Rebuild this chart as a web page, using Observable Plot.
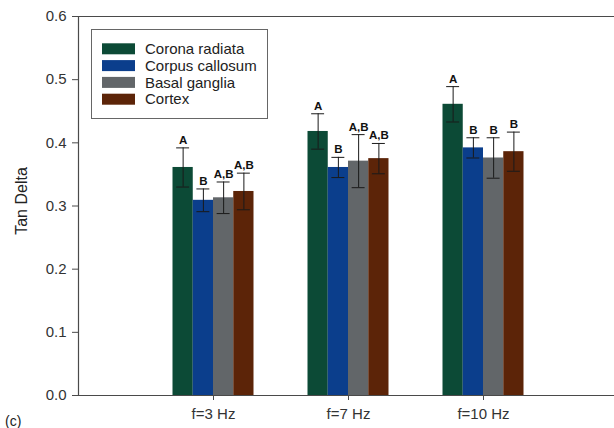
<!DOCTYPE html>
<html><head><meta charset="utf-8">
<script src="https://cdn.jsdelivr.net/npm/d3@7"></script>
<script src="https://cdn.jsdelivr.net/npm/@observablehq/plot@0.6"></script>
<style>
body{margin:0;background:#fff;overflow:hidden}
svg{font-family:"Liberation Sans",Arial,sans-serif}
</style>
</head><body><div id="chart"></div>
<script>
// Data
const groups = ["f=3 Hz", "f=7 Hz", "f=10 Hz"];
const series = ["Corona radiata", "Corpus callosum", "Basal ganglia", "Cortex"];
const colors = ["#0c4a36", "#0b3e8c", "#626669", "#5c2408"];

const coronaMean   = [0.361, 0.418, 0.461];
const callosumMean = [0.309, 0.361, 0.392];
const basalMean    = [0.313, 0.371, 0.376];
const cortexMean   = [0.323, 0.375, 0.386];

const coronaErr    = [0.031, 0.028, 0.028];
const callosumErr  = [0.018, 0.016, 0.016];
const basalErr     = [0.025, 0.042, 0.032];
const cortexErr    = [0.029, 0.024, 0.031];

const coronaLetters   = ["A", "A", "A"];
const callosumLetters = ["B", "B", "B"];
const basalLetters    = ["A,B", "A,B", "B"];
const cortexLetters   = ["A,B", "A,B", "B"];

const yTicks = [0, 0.1, 0.2, 0.3, 0.4, 0.5, 0.6];

const means = [coronaMean, callosumMean, basalMean, cortexMean];
const errs = [coronaErr, callosumErr, basalErr, cortexErr];
const letters = [coronaLetters, callosumLetters, basalLetters, cortexLetters];

const bw = 0.15;      // bar width in group units
const capHalf = 0.048; // error bar cap half-width
const data = [];
groups.forEach((g, gi) => {
  series.forEach((s, si) => {
    const x1 = (gi + 1) + (si - 2) * bw;
    data.push({g: gi + 1, s: si, x1, x2: x1 + bw, c: x1 + bw / 2,
      mean: means[si][gi], err: errs[si][gi], letter: letters[si][gi]});
  });
});

const W = 614, H = 428, mL = 78, mT = 16, mB = 33;
const frameColor = "#4a4a4a";
const plot = Plot.plot({
  width: W, height: H,
  marginLeft: mL, marginRight: 0, marginTop: mT, marginBottom: mB,
  style: {fontFamily: '"Liberation Sans", Arial, sans-serif', fontSize: "15px", color: "#333", background: "#fff"},
  x: {domain: [0, (W - mL) / 135]},
  y: {domain: [0, 0.6]},
  marks: [
    Plot.rect(data, {x1: "x1", x2: "x2", y1: 0, y2: "mean", fill: d => colors[d.s]}),
    Plot.ruleX(data, {x: "c", y1: d => d.mean - d.err, y2: d => d.mean + d.err, stroke: "#1a1a1a", strokeWidth: 1}),
    Plot.ruleY(data, {y: d => d.mean + d.err, x1: d => d.c - capHalf, x2: d => d.c + capHalf, stroke: "#1a1a1a", strokeWidth: 1}),
    Plot.ruleY(data, {y: d => d.mean - d.err, x1: d => d.c - capHalf, x2: d => d.c + capHalf, stroke: "#1a1a1a", strokeWidth: 1}),
    Plot.text(data, {x: "c", y: d => d.mean + d.err, text: "letter", dy: -4, lineAnchor: "bottom",
      fontWeight: "bold", fontSize: 11.5, fill: "#111"}),
    Plot.ruleY([0, 0.6], {stroke: frameColor, strokeWidth: 1.2}),
    Plot.ruleX([0], {stroke: frameColor, strokeWidth: 1.2}),
    Plot.axisY({ticks: yTicks, tickFormat: d3.format(".1f"), tickSize: 6, tickPadding: 6, fontSize: 15, label: null, stroke: frameColor}),
    Plot.axisX({ticks: [1, 2, 3], tickFormat: d => groups[d - 1], tickSize: 5, tickPadding: 8, fontSize: 15, label: null, stroke: frameColor})
  ]
});

const svg = d3.select(plot);
// Y axis title
svg.append("text")
  .attr("transform", "translate(21,201) rotate(-90)")
  .attr("text-anchor", "middle").attr("dy", "0.35em")
  .attr("font-size", 16).attr("fill", "#222")
  .text("Tan Delta");

// Legend
const lg = svg.append("g").attr("text-anchor", "start");
lg.append("rect").attr("x", 91.5).attr("y", 29.5).attr("width", 176).attr("height", 89)
  .attr("fill", "#fff").attr("stroke", "#666").attr("stroke-width", 1);
series.forEach((s, i) => {
  const cy = 48.8 + i * 16.8;
  lg.append("rect").attr("x", 102).attr("y", cy - 5.5).attr("width", 33).attr("height", 11).attr("fill", colors[i]);
  lg.append("text").attr("x", 145).attr("y", cy).attr("dy", "0.35em").attr("text-anchor", "start")
    .attr("font-size", 15).attr("fill", "#222").text(s);
});

// Panel label
svg.append("text").attr("x", 5).attr("y", 426).attr("text-anchor", "start")
  .attr("font-size", 14).attr("fill", "#222").text("(c)");

document.getElementById("chart").appendChild(plot);
</script>
</body></html>
